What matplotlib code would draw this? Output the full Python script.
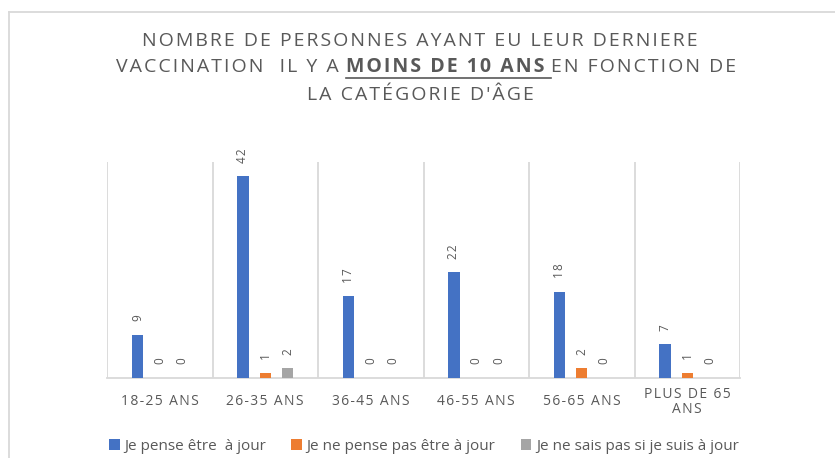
import matplotlib
matplotlib.use("Agg")
import matplotlib.pyplot as plt
import numpy as np
from matplotlib.lines import Line2D

# data
categories = ["18-25 ANS", "26-35 ANS", "36-45 ANS", "46-55 ANS", "56-65 ANS", "PLUS DE 65\nANS"]
a_jour = [9, 42, 17, 22, 18, 7]
pas_a_jour = [0, 1, 0, 0, 2, 1]
ne_sait_pas = [0, 2, 0, 0, 0, 0]
series_names = ["Je pense être  à jour", "Je ne pense pas être à jour", "Je ne sais pas si je suis à jour"]
title_line1 = "NOMBRE DE PERSONNES AYANT EU LEUR DERNIERE"
title_line2 = ["VACCINATION  IL Y A ", "MOINS DE 10 ANS ", "EN FONCTION DE"]
title_line3 = "LA CATÉGORIE D'ÂGE"

colors = ["#4472C4", "#ED7D31", "#A5A5A5"]
TEXT = "#595959"
GRID = "#D9D9D9"
HAIR = "\u200a"

plt.rcParams['font.family'] = ["Open Sans", "DejaVu Sans"]


def spaced(s):
    # Excel draws these labels with extra letter spacing
    return "\n".join(HAIR.join(line) for line in s.split("\n"))


W, H = 835, 458
fig = plt.figure(figsize=(W / 100, H / 100), dpi=100)
ax = fig.add_axes([107 / W, 1 - 378 / H, (740 - 107) / W, (378 - 162) / H])

x = np.arange(len(categories))
bw = 0.108
off = 0.212
for i, vals in enumerate([a_jour, pas_a_jour, ne_sait_pas]):
    pos = x + (i - 1) * off
    ax.bar(pos, vals, bw, color=colors[i], label=series_names[i], zorder=3)
    for p, v in zip(pos, vals):
        ax.annotate(spaced(str(v)), (p, v), xytext=(0, 10), textcoords="offset points",
                    rotation=90, ha="center", va="bottom", color=TEXT, fontsize=8.5)

ax.set_xlim(-0.5, len(categories) - 0.5)
ax.set_ylim(0, 45)
ax.set_yticks([])
ax.set_xticks(x)
ax.set_xticklabels([spaced(c) for c in categories], linespacing=1.0)
ax.tick_params(axis="x", length=0, pad=17, colors=TEXT, labelsize=10)
for lab in ax.get_xticklabels():
    lab.set_va("center")
for b in np.arange(-0.5, len(categories)):
    ax.axvline(b, color=GRID, lw=1.3, zorder=1)
for s in ["top", "left", "right"]:
    ax.spines[s].set_visible(False)
ax.spines["bottom"].set_color(GRID)
ax.spines["bottom"].set_linewidth(1.3)

# chart border (top and left edges visible in the crop)
fig.add_artist(Line2D([9 / W, 9 / W], [0, 1 - 12 / H], color=GRID, lw=1.3))
fig.add_artist(Line2D([9 / W, 1], [1 - 12 / H, 1 - 12 / H], color=GRID, lw=1.3))

# title
tsize = 14
fig.text(420 / W, 1 - 40.5 / H, spaced(title_line1), ha="center", va="center", fontsize=tsize, color=TEXT)
fig.text(420 / W, 1 - 95 / H, spaced(title_line3), ha="center", va="center", fontsize=tsize, color=TEXT)

fig.canvas.draw()
r = fig.canvas.get_renderer()
pieces = []
for j, s in enumerate(title_line2):
    t = fig.text(0, 1 - 67 / H, spaced(s), ha="left", va="center", fontsize=tsize, color=TEXT,
                 fontweight="bold" if j == 1 else "normal")
    pieces.append(t)
widths = [p.get_window_extent(r).width for p in pieces]
x0 = 426 - sum(widths) / 2
ul_x0 = (x0 + widths[0]) / W
for p, w in zip(pieces, widths):
    p.set_x(x0 / W)
    x0 += w
ul_x1 = ul_x0 + widths[1] / W
fig.add_artist(Line2D([ul_x0, ul_x1], [1 - 78 / H, 1 - 78 / H], color=TEXT, lw=1.2))

fig.legend(loc="center", bbox_to_anchor=(424 / W, 1 - 446 / H), ncol=3, frameon=False,
           handlelength=0.7, handleheight=0.7, handletextpad=0.3, columnspacing=1.65,
           fontsize=11, labelcolor=TEXT)

fig.savefig("out.png", dpi=100)
